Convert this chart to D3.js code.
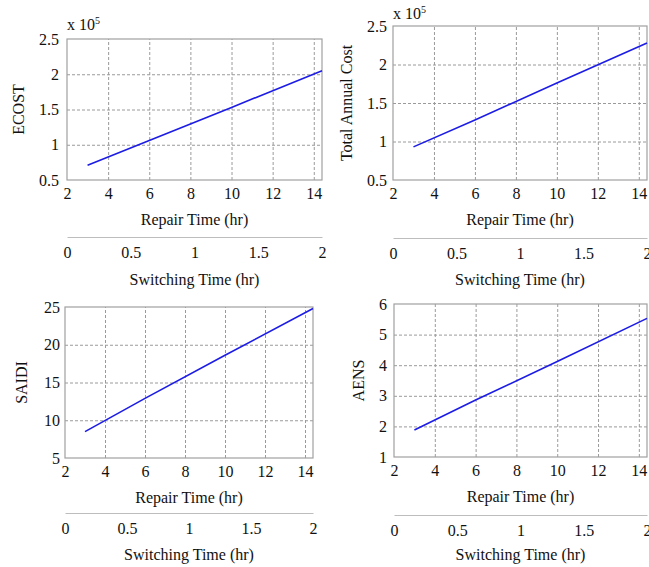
<!DOCTYPE html>
<html>
<head>
<meta charset="utf-8">
<script src="https://cdn.jsdelivr.net/npm/d3@7/dist/d3.min.js"></script>
<style>
  html, body { margin: 0; padding: 0; background: #fff; }
  svg { display: block; }
  text { font-family: "Liberation Serif", "Times New Roman", serif; fill: #111; }
</style>
</head>
<body>
<svg id="chart" width="649" height="567"></svg>
<script>
// ---- data ----
const repairTime = [3, 6, 10, 14.4];               // hr
const ecost      = [71000, 106000, 153000, 205000]; // ECOST
const totalCost  = [93000, 128000, 176000, 228000]; // Total Annual Cost
const saidi      = [8.5, 12.9, 18.6, 24.8];         // SAIDI
const aens       = [1.88, 2.86, 4.12, 5.53];        // AENS

const repairTicks    = [2, 4, 6, 8, 10, 12, 14];
const switchTicks    = [0, 0.5, 1, 1.5, 2];
const costTicks      = [0.5, 1, 1.5, 2, 2.5];
const saidiTicks     = [5, 10, 15, 20, 25];
const aensTicks      = [1, 2, 3, 4, 5, 6];

const repairDomain = [2, 14.4];
const switchDomain = [0, 2];

// ---- layout per panel ----
const panels = [
  { y: ecost, factor: 1e5, ticks: costTicks, label: "ECOST", exp: true,
    L: 67, R: 322, T: 39, B: 180, ylabX: 18, expY: 30, tickGap: 8,
    sec: 237, secTitle: 285 },
  { y: totalCost, factor: 1e5, ticks: costTicks, label: "Total Annual Cost", exp: true,
    L: 393, R: 647, T: 26, B: 180, ylabX: 346, expY: 19, tickGap: 6,
    sec: 238, secTitle: 285 },
  { y: saidi, factor: 1, ticks: saidiTicks, label: "SAIDI", exp: false,
    L: 65, R: 313, T: 307, B: 458, ylabX: 21, tickGap: 5,
    sec: 513, secTitle: 560 },
  { y: aens, factor: 1, ticks: aensTicks, label: "AENS", exp: false,
    L: 394, R: 647, T: 304, B: 457, ylabX: 358, tickGap: 7,
    sec: 515, secTitle: 560 }
];

const svg = d3.select("#chart");
const FS = 16;

panels.forEach(p => {
  const g = svg.append("g");
  const x = d3.scaleLinear().domain(repairDomain).range([p.L, p.R]);
  const yDom = d3.extent(p.ticks);
  const y = d3.scaleLinear().domain(yDom).range([p.B, p.T]);
  const xs = d3.scaleLinear().domain(switchDomain).range([p.L, p.R]);

  // grid
  const gx = d3.axisBottom(x).tickValues(repairTicks.filter(v => v > repairDomain[0]))
    .tickSize(-(p.B - p.T)).tickFormat("");
  g.append("g").attr("transform", `translate(0,${p.B})`).call(gx)
    .call(s => s.select(".domain").remove())
    .call(s => s.selectAll("line").attr("stroke", "#9a9a9a").attr("stroke-dasharray", "3,2").attr("stroke-width", 1));
  const gy = d3.axisLeft(y).tickValues(p.ticks.filter(v => v > yDom[0] && v < yDom[1]))
    .tickSize(-(p.R - p.L)).tickFormat("");
  g.append("g").attr("transform", `translate(${p.L},0)`).call(gy)
    .call(s => s.select(".domain").remove())
    .call(s => s.selectAll("line").attr("stroke", "#9a9a9a").attr("stroke-dasharray", "3,2").attr("stroke-width", 1));

  // frame
  g.append("rect").attr("x", p.L).attr("y", p.T)
    .attr("width", p.R - p.L).attr("height", p.B - p.T)
    .attr("fill", "none").attr("stroke", "#a0a0a0").attr("stroke-width", 1.2);

  // primary x tick labels
  const ax = d3.axisBottom(x).tickValues(repairTicks).tickSize(0).tickPadding(0).tickFormat(d3.format("d"));
  g.append("g").attr("transform", `translate(0,${p.B})`).call(ax)
    .call(s => s.select(".domain").remove())
    .call(s => s.selectAll("text").attr("y", 19).attr("dy", 0)
      .style("font-family", '"Liberation Serif", serif').style("font-size", FS + "px").attr("fill", "#111"));

  // y tick labels
  const ay = d3.axisLeft(y).tickValues(p.ticks).tickSize(0).tickPadding(p.tickGap).tickFormat(d => String(d));
  g.append("g").attr("transform", `translate(${p.L},0)`).call(ay)
    .call(s => s.select(".domain").remove())
    .call(s => s.selectAll("text").style("font-family", '"Liberation Serif", serif')
      .style("font-size", FS + "px").attr("fill", "#111"));

  // exponent
  if (p.exp) {
    const t = g.append("text").attr("x", p.L).attr("y", p.expY).style("font-size", FS + "px");
    t.append("tspan").text("x 10");
    t.append("tspan").attr("dy", -6).style("font-size", "10px").text("5");
  }

  // y label
  g.append("text")
    .attr("transform", `translate(${p.ylabX},${(p.T + p.B) / 2}) rotate(-90)`)
    .attr("text-anchor", "middle").attr("dy", "0.35em")
    .style("font-size", FS + "px").text(p.label);

  // x title
  g.append("text").attr("x", (p.L + p.R) / 2).attr("y", p.B + 45)
    .attr("text-anchor", "middle").style("font-size", FS + "px").text("Repair Time (hr)");

  // secondary axis
  const as = d3.axisBottom(xs).tickValues(switchTicks).tickSize(0).tickPadding(0).tickFormat(d => String(d));
  g.append("g").attr("transform", `translate(0,${p.sec})`).call(as)
    .call(s => s.select(".domain").attr("stroke", "#bdbdbd").attr("stroke-width", 1.2))
    .call(s => s.selectAll("text").attr("y", 21).attr("dy", 0)
      .style("font-family", '"Liberation Serif", serif').style("font-size", FS + "px").attr("fill", "#111"));
  g.append("text").attr("x", (p.L + p.R) / 2).attr("y", p.secTitle)
    .attr("text-anchor", "middle").style("font-size", FS + "px").text("Switching Time (hr)");

  // data line
  const pts = repairTime.map((r, i) => [r, p.y[i] / p.factor]);
  g.append("path").datum(pts)
    .attr("d", d3.line().x(d => x(d[0])).y(d => y(d[1])))
    .attr("fill", "none").attr("stroke", "#1c1ce6").attr("stroke-width", 1.6);
});
</script>
</body>
</html>
